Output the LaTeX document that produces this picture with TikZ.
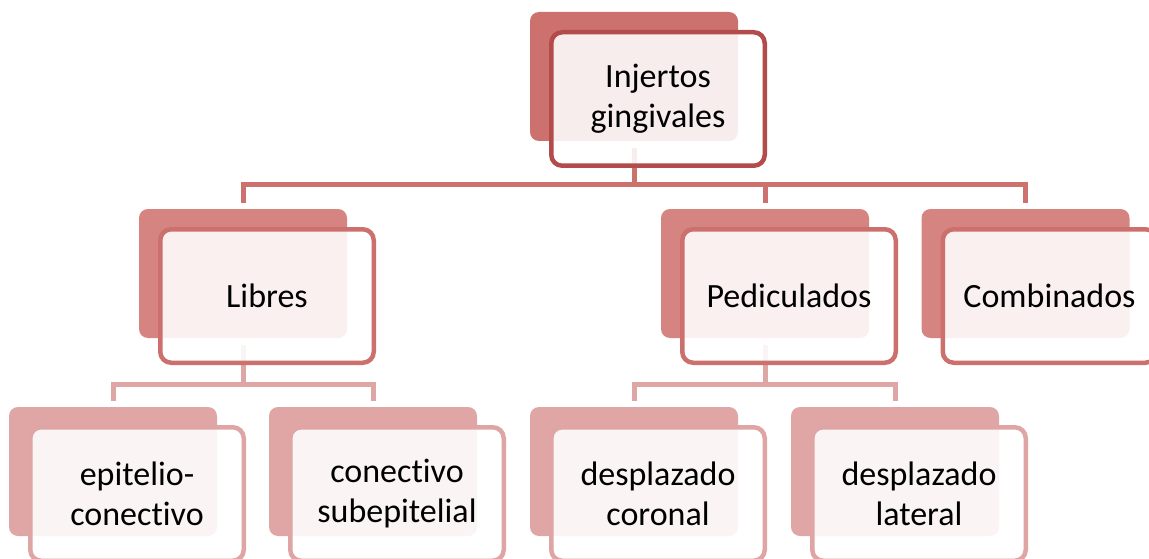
\documentclass[tikz,border=0pt]{standalone}
\usepackage{fontspec}
\setmainfont{Carlito}[Ligatures=NoCommon]
\usetikzlibrary{calc}
\definecolor{rootfill}{HTML}{CD716E}
\definecolor{rootline}{HTML}{B34B4B}
\definecolor{midfill}{HTML}{D68481}
\definecolor{midline}{HTML}{CC706E}
\definecolor{lowfill}{HTML}{E0A6A5}
\definecolor{lowline}{HTML}{DFA5A5}
\definecolor{toplink}{HTML}{CD716E}
\definecolor{sublink}{HTML}{DEA6A5}

\begin{document}
\begin{tikzpicture}[x=1pt, y=-1pt,
	back/.style={fill=#1, rounded corners=9pt, inner sep=0pt, minimum width=208pt, minimum height=129pt},
	frame/.style={draw=#1, line width=4.5pt, rounded corners=11pt, fill=white, fill opacity=0.88, text opacity=1,
		inner sep=0pt, minimum width=213.5pt, minimum height=133.5pt, align=center,
		font=\fontsize{34}{40}\selectfont},
	link/.style={draw=#1, line width=5pt, shorten <=7pt, shorten >=6pt}]
	\clip (0, 0) rectangle (1149, 559);

	% filled backs
	\path (634, 76.5) node[back=rootfill] (rb) {}
	(243, 273.5) node[back=midfill] (mb1) {}
	(765, 273.5) node[back=midfill] (mb2) {}
	(1025.5, 273.5) node[back=midfill] (mb3) {}
	(113, 471.5) node[back=lowfill] (lb1) {}
	(373, 471.5) node[back=lowfill] (lb2) {}
	(634, 471.5) node[back=lowfill] (lb3) {}
	(895, 471.5) node[back=lowfill] (lb4) {};

	\coordinate (rbus) at (634, 185);
	\coordinate (mbus1) at (243, 384);
	\coordinate (mbus2) at (765, 384);

	\draw[link=toplink, shorten >=0pt] (rb.south) -- (rbus);
	\draw[link=toplink, shorten <=0pt] (rbus) -| (mb1.north);
	\draw[link=toplink, shorten <=0pt] (rbus) -| (mb2.north);
	\draw[link=toplink, shorten <=0pt] (rbus) -| (mb3.north);
	\draw[link=sublink, shorten >=0pt] (mb1.south) -- (mbus1);
	\draw[link=sublink, shorten <=0pt] (mbus1) -| (lb1.north);
	\draw[link=sublink, shorten <=0pt] (mbus1) -| (lb2.north);
	\draw[link=sublink, shorten >=0pt] (mb2.south) -- (mbus2);
	\draw[link=sublink, shorten <=0pt] (mbus2) -| (lb3.north);
	\draw[link=sublink, shorten <=0pt] (mbus2) -| (lb4.north);

	% framed texts
	\path ($(rb)+(24,22.5)$) node[frame=rootline] (rf) {Injertos\\gingivales}
	($(mb1)+(24,22.5)$) node[frame=midline] (mf1) {Libres}
	($(mb2)+(24,22.5)$) node[frame=midline] (mf2) {Pediculados}
	($(mb3)+(24,22.5)$) node[frame=midline] (mf3) {Combinados}
	($(lb1)+(24,22.5)$) node[frame=lowline] (lf1) {epitelio-\\conectivo}
	($(lb2)+(24,22.5)$) node[frame=lowline] (lf2) {conectivo\\subepitelial}
	($(lb3)+(24,22.5)$) node[frame=lowline] (lf3) {desplazado\\coronal}
	($(lb4)+(24,22.5)$) node[frame=lowline] (lf4) {desplazado\\lateral};
\end{tikzpicture}
\end{document}
